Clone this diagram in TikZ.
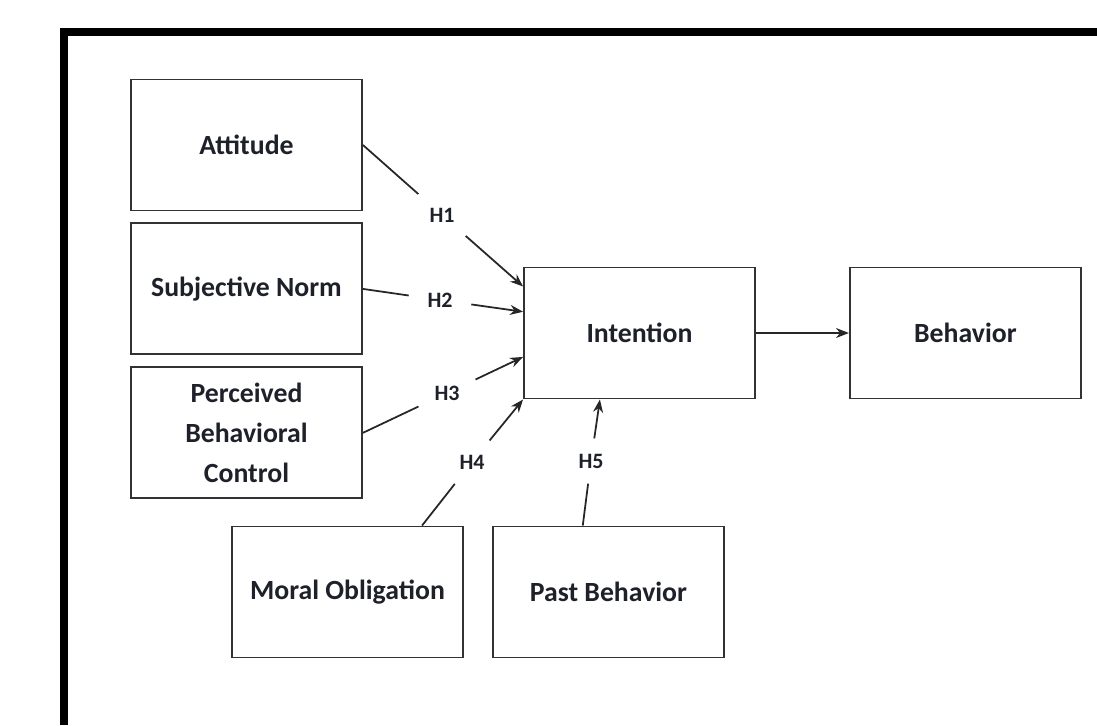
\documentclass[tikz,border=0pt]{standalone}
\usepackage{fontspec}
\setmainfont{Carlito}
\usepackage{xcolor}
\usetikzlibrary{positioning,calc,arrows.meta}
\definecolor{boxline}{RGB}{50,50,50}
\definecolor{inkdark}{RGB}{30,33,42}

\begin{document}
\begin{tikzpicture}[
    x=0.02cm, y=-0.02cm,
    node distance=0.22cm and 0.56cm,
    construct/.style={rectangle, draw=boxline, line width=1.1pt, fill=white, minimum width=4.62cm, minimum height=2.62cm, align=center, text=inkdark, font=\fontsize{15.8}{23}\selectfont\bfseries},
    hyp/.style={circle, inner sep=0pt, minimum size=1.25cm, text=inkdark, font=\fontsize{12.5}{14}\selectfont\bfseries},
    link/.style={line width=1pt, draw=black!85},
    arrow/.style={-{Stealth[length=2.6mm, width=2mm]}, line width=1pt, draw=black!85},
    frame/.style={line width=0.16cm, draw=black, line join=miter}
]
\useasboundingbox (0,0) rectangle (1097,725);
\draw[frame] (64,725) -- (64,32) -- (1097,32);

% theory of planned behaviour constructs
\node[construct] (att) at (246.5,145) {Attitude};
\node[construct, below=of att] (norm) {Subjective Norm};
\node[construct, below=of norm, text depth=-0.2cm] (pbc) {Perceived\\Behavioral\\Control};

\node[construct] (int) at (639.5,333) {Intention};
\node[construct, right=1.86cm of int] (beh) {Behavior};

\node[construct] (moral) at (347.5,592) {Moral Obligation};
\node[construct, right=of moral] (past) {Past Behavior};

% hypotheses
\node[hyp] (h1) at (442,215) {H1};
\node[hyp] (h2) at (440,300) {H2};
\node[hyp] (h3) at (447,393) {H3};
\node[hyp, minimum size=1.1cm] (h4) at (472,462) {H4};
\node[hyp, minimum size=0.9cm] (h5) at (591,461) {H5};

\draw[link] (att.east) -- (h1);
\draw[arrow] (h1) -- ($(int.north west)!0.15!(int.south west)$);
\draw[link] (norm.east) -- (h2);
\draw[arrow] (h2) -- ($(int.north west)!0.34!(int.south west)$);
\draw[link] (pbc.east) -- (h3);
\draw[arrow] (h3) -- ($(int.north west)!0.68!(int.south west)$);
\draw[link] ($(moral.north west)!0.82!(moral.north east)$) -- (h4);
\draw[arrow] (h4) -- (int.south west);
\draw[link] ($(past.north west)!0.39!(past.north east)$) -- (h5);
\draw[arrow] (h5) -- ($(int.south west)!0.33!(int.south east)$);

\draw[arrow] (int) -- (beh);

\end{tikzpicture}
\end{document}
